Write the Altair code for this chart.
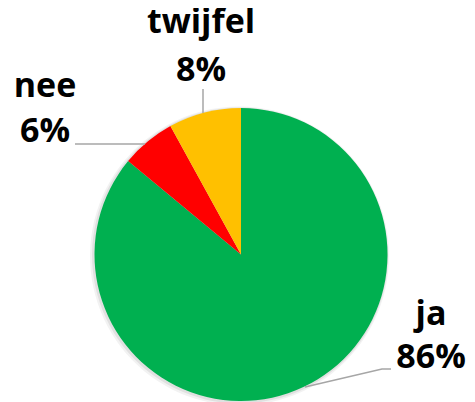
import altair as alt
import pandas as pd

# ---- data ----
categories = ["ja", "nee", "twijfel"]
values = [86, 6, 8]
colors = ["#00B050", "#FF0000", "#FFC000"]

# ---- layout (chart pixel coords; page = chart + 8px margin) ----
W, H = 459, 394
CX, CY, R = 233, 246.5, 146.5
FONT = "Open Sans"
FS = 34

# label anchor (center x, baseline of name line, baseline of pct line)
label_pos = {
    "ja": (423, 317, 360),
    "nee": (37, 89, 134),
    "twijfel": (193, 25, 73),
}
# leader line vertices
leader_pts = {
    "ja": [(383, 361), (374, 361), (297, 379)],
    "nee": [(67, 136), (137, 136)],
    "twijfel": [(195, 81), (195, 105)],
}

pie_df = pd.DataFrame({"cat": categories, "val": values, "ord": list(range(len(categories)))})

txt_rows = []
for c, v in zip(categories, values):
    x, y1, y2 = label_pos[c]
    txt_rows.append({"t": c, "x": x, "y": y1})
    txt_rows.append({"t": f"{v}%", "x": x, "y": y2})
txt_df = pd.DataFrame(txt_rows)

line_rows = []
for c, pts in leader_pts.items():
    for i, (x, y) in enumerate(pts):
        line_rows.append({"g": c, "i": i, "x": x, "y": y})
line_df = pd.DataFrame(line_rows)

base = alt.Chart(pie_df)

shadow1 = base.mark_arc(radius=R + 3, color="#000000", opacity=0.05).encode(
    theta=alt.Theta("val:Q", stack=True),
    order=alt.Order("ord:Q"),
    x=alt.value(CX - 1.5), y=alt.value(CY + 1.5),
)
shadow2 = base.mark_arc(radius=R + 1.5, color="#000000", opacity=0.07).encode(
    theta=alt.Theta("val:Q", stack=True),
    order=alt.Order("ord:Q"),
    x=alt.value(CX - 1), y=alt.value(CY + 1),
)

pie = base.mark_arc(radius=R, strokeWidth=0).encode(
    theta=alt.Theta("val:Q", stack=True),
    color=alt.Color("cat:N", scale=alt.Scale(domain=categories, range=colors), legend=None),
    order=alt.Order("ord:Q"),
    x=alt.value(CX), y=alt.value(CY),
)

lines = alt.Chart(line_df).mark_line(color="#A6A6A6", strokeWidth=1.5).encode(
    x=alt.X("x:Q", scale=None),
    y=alt.Y("y:Q", scale=None),
    detail="g:N",
    order="i:Q",
)

texts = alt.Chart(txt_df).mark_text(
    font=FONT, fontSize=FS, fontWeight="bold", color="#000000",
    align="center", baseline="alphabetic",
).encode(
    x=alt.X("x:Q", scale=None),
    y=alt.Y("y:Q", scale=None),
    text="t:N",
)

chart = alt.layer(shadow1, shadow2, pie, lines, texts).properties(
    width=W, height=H, padding=0, autosize="none", background="white",
).configure_view(stroke=None)

chart.save("out.html", embed_options={"renderer": "svg", "actions": False})
